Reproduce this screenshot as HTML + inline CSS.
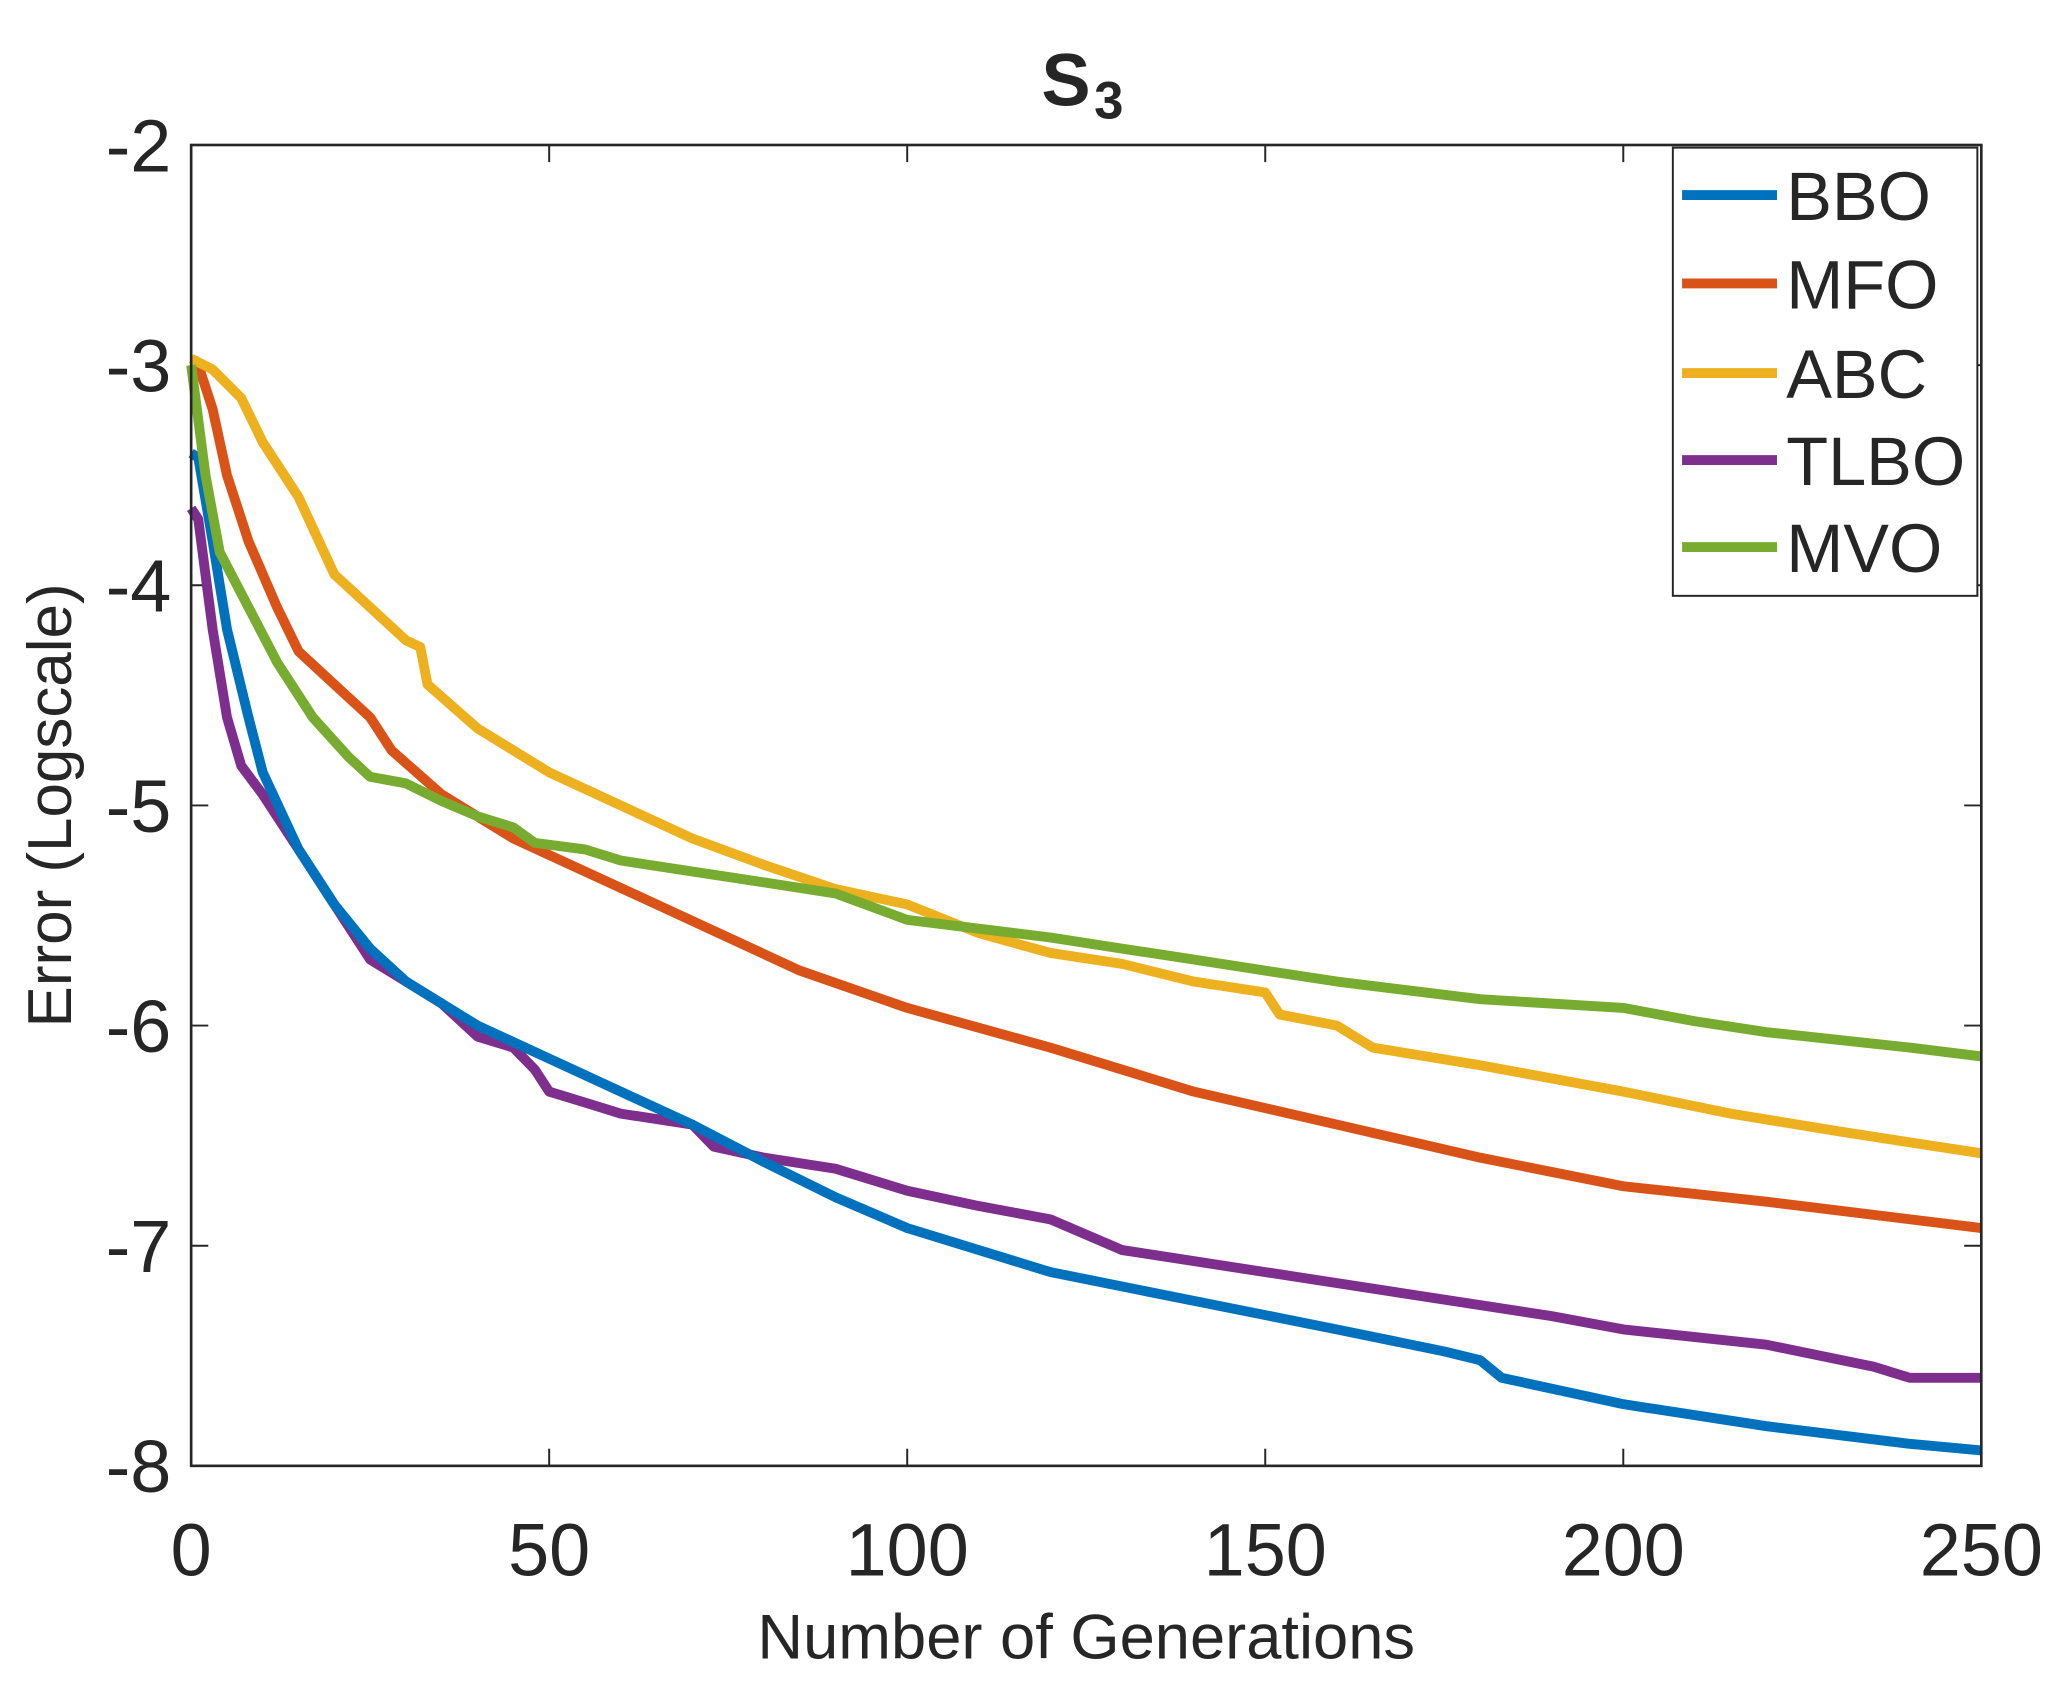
<!DOCTYPE html>
<html><head><meta charset="utf-8"><style>
html,body{margin:0;padding:0;background:#fff;}
svg{display:block;}
text{font-family:"Liberation Sans",Arial,sans-serif;fill:#262626;}
</style></head><body>
<svg id="s" width="2067" height="1686" viewBox="0 0 1568 1279" preserveAspectRatio="none" xmlns="http://www.w3.org/2000/svg">
<rect width="1568" height="1279" fill="#fff"/>
<g id="ticks" stroke="#262626" stroke-width="1.5"></g>
<g id="lines" fill="none" stroke-width="7.5" stroke-linejoin="round"></g>
<rect x="145" y="110" width="1358" height="1002" fill="none" stroke="#262626" stroke-width="2"/>
<g font-size="56" text-anchor="end">
<text x="130" y="130">-2</text><text x="130" y="297">-3</text><text x="130" y="464">-4</text>
<text x="130" y="631">-5</text><text x="130" y="798">-6</text><text x="130" y="965">-7</text><text x="130" y="1132">-8</text>
</g>
<g font-size="56" text-anchor="middle">
<text x="145" y="1195">0</text><text x="416.6" y="1195">50</text><text x="688.2" y="1195">100</text>
<text x="959.8" y="1195">150</text><text x="1231.4" y="1195">200</text><text x="1503" y="1195">250</text>
</g>
<text x="824" y="1258" font-size="48" text-anchor="middle">Number of Generations</text>
<text transform="translate(54,611) rotate(-90)" font-size="47" text-anchor="middle">Error (Logscale)</text>
<text x="790" y="80" font-size="56" font-weight="bold" fill="#000">S</text>
<text x="830" y="90" font-size="40" font-weight="bold" fill="#000">3</text>
<rect x="1269" y="112" width="231" height="340" fill="#fff" stroke="#262626" stroke-width="1.5"/>
<g stroke-width="7.5">
<line x1="1276" y1="148" x2="1348" y2="148" stroke="#0072BD"/>
<line x1="1276" y1="215" x2="1348" y2="215" stroke="#D95319"/>
<line x1="1276" y1="283" x2="1348" y2="283" stroke="#EDB120"/>
<line x1="1276" y1="349" x2="1348" y2="349" stroke="#7E2F8E"/>
<line x1="1276" y1="415" x2="1348" y2="415" stroke="#77AC30"/>
</g>
<g font-size="52" fill="#000">
<text x="1355" y="167" fill="#000">BBO</text><text x="1355" y="234" fill="#000">MFO</text>
<text x="1355" y="302" fill="#000">ABC</text><text x="1355" y="368" fill="#000">TLBO</text>
<text x="1355" y="434" fill="#000">MVO</text>
</g>
</svg>
<script>
var X=function(g){return 145+g*5.432},Y=function(v){return 110+(-2-v)*167};
var t=document.getElementById('ticks'),h='';
for(var g=0;g<=250;g+=50){h+='<line x1="'+X(g)+'" y1="1112" x2="'+X(g)+'" y2="1099"/><line x1="'+X(g)+'" y1="110" x2="'+X(g)+'" y2="123"/>';}
for(var v=-2;v>=-8;v--){h+='<line x1="145" y1="'+Y(v)+'" x2="158" y2="'+Y(v)+'"/><line x1="1503" y1="'+Y(v)+'" x2="1490" y2="'+Y(v)+'"/>';}
t.innerHTML=h;
var D={
"#D95319":[0,-3,1,-3,2,-3.1,3,-3.2,5,-3.5,8,-3.8,12,-4.1,15,-4.3,20,-4.45,25,-4.6,28,-4.75,35,-4.95,45,-5.15,55,-5.3,65,-5.45,75,-5.6,85,-5.75,100,-5.92,120,-6.1,140,-6.3,160,-6.45,180,-6.6,200,-6.73,220,-6.8,250,-6.92],
"#EDB120":[0,-2.97,3,-3.02,7,-3.15,10,-3.35,15,-3.6,20,-3.95,25,-4.1,30,-4.25,32,-4.28,33,-4.45,40,-4.65,50,-4.85,60,-5,70,-5.15,80,-5.27,90,-5.38,100,-5.45,110,-5.58,120,-5.67,130,-5.72,140,-5.8,150,-5.85,152,-5.95,160,-6,165,-6.1,180,-6.18,200,-6.3,215,-6.4,230,-6.48,250,-6.58],
"#7E2F8E":[0,-3.65,1,-3.7,3,-4.2,5,-4.6,7,-4.82,10,-4.95,15,-5.2,20,-5.45,25,-5.7,30,-5.8,35,-5.9,40,-6.05,45,-6.1,48,-6.2,50,-6.3,55,-6.35,60,-6.4,70,-6.45,73,-6.55,80,-6.6,90,-6.65,100,-6.75,110,-6.82,120,-6.88,125,-6.95,130,-7.02,150,-7.12,170,-7.22,190,-7.32,200,-7.38,220,-7.45,235,-7.55,240,-7.6,250,-7.6],
"#0072BD":[0,-3.4,1,-3.42,3,-3.8,5,-4.2,8,-4.6,10,-4.85,15,-5.2,20,-5.45,25,-5.65,30,-5.8,40,-6,50,-6.15,60,-6.3,70,-6.45,80,-6.62,90,-6.78,100,-6.92,120,-7.12,140,-7.25,160,-7.38,175,-7.48,180,-7.52,183,-7.6,200,-7.72,220,-7.82,240,-7.9,250,-7.93],
"#77AC30":[0,-3,2,-3.5,4,-3.85,8,-4.1,12,-4.35,17,-4.6,22,-4.78,25,-4.87,30,-4.9,35,-4.98,40,-5.05,45,-5.1,48,-5.17,55,-5.2,60,-5.25,70,-5.3,80,-5.35,90,-5.4,100,-5.52,110,-5.56,120,-5.6,130,-5.65,140,-5.7,150,-5.75,160,-5.8,180,-5.88,200,-5.92,210,-5.98,220,-6.03,240,-6.1,250,-6.14]};
var L='';
for(var c in D){var a=D[c],p=[];for(var i=0;i<a.length;i+=2)p.push(X(a[i]).toFixed(1)+','+Y(a[i+1]).toFixed(1));L+='<polyline stroke="'+c+'" points="'+p.join(' ')+'"/>';}
document.getElementById('lines').innerHTML=L;
</script>
</body></html>
